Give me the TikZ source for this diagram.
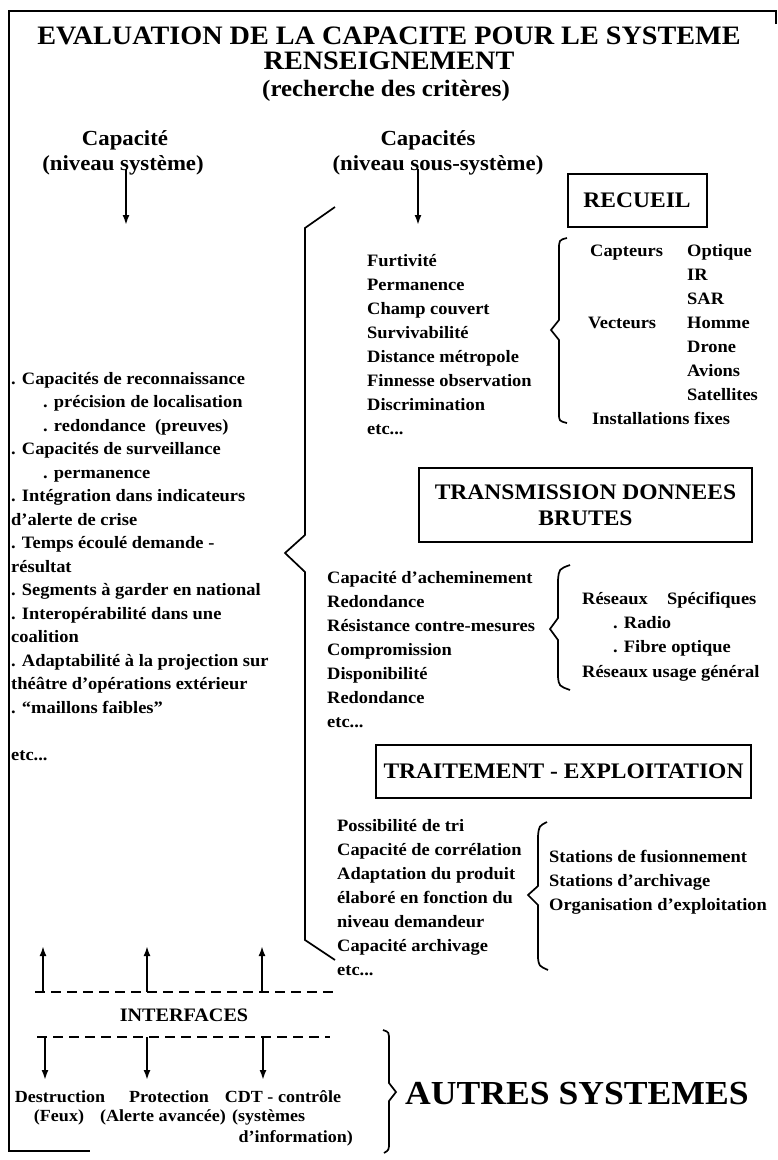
\documentclass[tikz,border=0pt]{standalone}
\usepackage{fontspec}
\setmainfont{Liberation Serif}[FakeStretch=1.06]
\usetikzlibrary{arrows.meta}
\begin{document}
\begin{tikzpicture}[x=1pt,y=-1pt,
  frame/.style={line width=2.5pt},
  arr/.style={line width=2pt,-{Latex[length=10pt,width=7pt]}},
  brk/.style={line width=1.7pt},
  dsh/.style={line width=1.8pt,dash pattern=on 10pt off 6pt},
  title/.style={font=\bfseries\fontsize{26.6}{28}\selectfont,inner sep=0,anchor=base},
  sub/.style={font=\bfseries\fontsize{23.5}{25}\selectfont,inner sep=0,anchor=base},
  head/.style={font=\bfseries\fontsize{21.5}{23}\selectfont,inner sep=0,anchor=base},
  body/.style={font=\bfseries\fontsize{17.4}{24}\selectfont,inner sep=0,anchor=base west},
  box/.style={draw,line width=2pt,inner sep=0,font=\bfseries\fontsize{22.2}{26}\selectfont},
  inter/.style={font=\bfseries\fontsize{19}{21}\selectfont,inner sep=0,anchor=base},
  lab/.style={font=\bfseries\fontsize{17}{19}\selectfont,inner sep=0,anchor=base},
  big/.style={font=\bfseries\fontsize{33.6}{36}\selectfont,inner sep=0,anchor=base west}]
\useasboundingbox (0,0) rectangle (778,1160);

% frame
\coordinate (f1) at (9,1151);
\coordinate (f2) at (9,11);
\coordinate (f3) at (776,11);
\coordinate (f4) at (776,24);
\coordinate (f5) at (90,1151);
\draw[frame] (f4) -- (f3) -- (f2) -- (f1) -- (f5);

% titles
\node[title] (t1) at (389,44) {EVALUATION DE LA CAPACITE POUR LE SYSTEME};
\node[title] (t2) at (389,69) {RENSEIGNEMENT};
\node[sub] (t3) at (386,96) {(recherche des critères)};

% column headers
\node[head] (h1a) at (125,145) {Capacité};
\node[head] (h1b) at (123,170) {(niveau système)};
\node[head] (h2a) at (428,145) {Capacités};
\node[head] (h2b) at (438,170) {(niveau sous-système)};

\coordinate (a1s) at (126,169);
\coordinate (a1e) at (126,225);
\coordinate (a2s) at (418,169);
\coordinate (a2e) at (418,225);
\draw[arr] (a1s) -- (a1e);
\draw[arr] (a2s) -- (a2e);

% left column
\foreach \k/\xx/\txt in {
 0/11/{. Capacités de reconnaissance},
 1/43/{. précision de localisation},
 2/43/{. redondance\ \ (preuves)},
 3/11/{. Capacités de surveillance},
 4/43/{. permanence},
 5/11/{. Intégration dans indicateurs},
 6/11/{d'alerte de crise},
 7/11/{. Temps écoulé demande -},
 8/11/{résultat},
 9/11/{. Segments à garder en national},
 10/11/{. Interopérabilité dans une},
 11/11/{coalition},
 12/11/{. Adaptabilité à la projection sur},
 13/11/{théâtre d'opérations extérieur},
 14/11/{. ``maillons faibles''},
 16/11/{etc...}}
 \node[body] (L\k) at (\xx,{384+\k*23.5}) {\txt};

% big bracket
\draw[brk] (335,207) -- (305,228) -- (305,535) -- (285,553) -- (305,572) -- (305,940) -- (335,960);

% RECUEIL
\node[box,minimum width=139pt,minimum height=53pt] (recueil) at (637,200.5) {RECUEIL};
\foreach \k/\txt in {0/{Furtivité},1/{Permanence},2/{Champ couvert},3/{Survivabilité},4/{Distance métropole},5/{Finnesse observation},6/{Discrimination},7/{etc...}}
 \node[body] (R\k) at (367,{266+\k*24}) {\txt};
\draw[brk] (567,238) .. controls (559,240) .. (559,250) -- (559,320) -- (551,330) -- (559,340) -- (559,413) .. controls (559,421) .. (567,423);
\node[body] (cap) at (590,256) {Capteurs};
\node[body] (vec) at (588,328) {Vecteurs};
\foreach \k/\txt in {0/{Optique},1/{IR},2/{SAR},3/{Homme},4/{Drone},5/{Avions},6/{Satellites}}
 \node[body] (S\k) at (687,{256+\k*24}) {\txt};
\node[body] (inst) at (592,424) {Installations fixes};

% TRANSMISSION
\node[box,minimum width=333pt,minimum height=74pt,align=center] (trans) at (585.5,505) {TRANSMISSION DONNEES\\BRUTES};
\foreach \k/\txt in {0/{Capacité d'acheminement},1/{Redondance},2/{Résistance contre-mesures},3/{Compromission},4/{Disponibilité},5/{Redondance},6/{etc...}}
 \node[body] (T\k) at (327,{583+\k*24}) {\txt};
\draw[brk] (570,565) .. controls (559,569) .. (558,580) -- (558,618) -- (550,629) -- (558,640) -- (558,677) .. controls (559,686) .. (570,690);
\node[body] (res1) at (582,604) {Réseaux};
\node[body] (spec) at (667,604) {Spécifiques};
\node[body] (radio) at (613,628) {. Radio};
\node[body] (fibre) at (613,652) {. Fibre optique};
\node[body] (res2) at (582,677) {Réseaux usage général};

% TRAITEMENT
\node[box,minimum width=375pt,minimum height=53pt] (trait) at (563.5,771.5) {TRAITEMENT - EXPLOITATION};
\foreach \k/\txt in {0/{Possibilité de tri},1/{Capacité de corrélation},2/{Adaptation du produit},3/{élaboré en fonction du},4/{niveau demandeur},5/{Capacité archivage},6/{etc...}}
 \node[body] (P\k) at (337,{831+\k*24}) {\txt};
\draw[brk] (547,822) .. controls (539,826) .. (538,836) -- (538,886) -- (528,895) -- (538,905) -- (538,958) .. controls (539,966) .. (548,970);
\node[body] (st1) at (549,862) {Stations de fusionnement};
\node[body] (st2) at (549,886) {Stations d'archivage};
\node[body] (org) at (549,910) {Organisation d'exploitation};

% interfaces
\coordinate (d1s) at (35,992);
\coordinate (d1e) at (335,992);
\coordinate (d2s) at (37,1037);
\coordinate (d2e) at (330,1037);
\draw[dsh] (d1s) -- (d1e);
\draw[dsh] (d2s) -- (d2e);
\foreach \xx [count=\i] in {43,147,262}{
 \coordinate (u\i s) at (\xx,992);
 \coordinate (u\i e) at (\xx,946);
 \draw[arr] (u\i s) -- (u\i e);
}
\node[inter] (interf) at (184,1021) {INTERFACES};
\foreach \xx [count=\i] in {45,147,263}{
 \coordinate (v\i s) at (\xx,1037);
 \coordinate (v\i e) at (\xx,1080);
 \draw[arr] (v\i s) -- (v\i e);
}
\node[lab] (dest) at (60,1102) {Destruction};
\node[lab] (feux) at (59,1121) {(Feux)};
\node[lab] (prot) at (169,1102) {Protection};
\node[lab] (alert) at (163,1121) {(Alerte avancée)};
\node[lab] (cdt) at (283,1102) {CDT - contrôle};
\node[lab,anchor=base west] (sys) at (232,1121) {(systèmes};
\node[lab,anchor=base east] (info) at (353,1142) {d'information)};

% autres systemes
\draw[brk] (383,1030) .. controls (389,1032) .. (389,1041) -- (389,1083) -- (396,1092) -- (389,1101) -- (389,1142) .. controls (389,1150) .. (384,1153);
\node[big] (autres) at (405,1104) {AUTRES SYSTEMES};
\end{tikzpicture}
\end{document}
